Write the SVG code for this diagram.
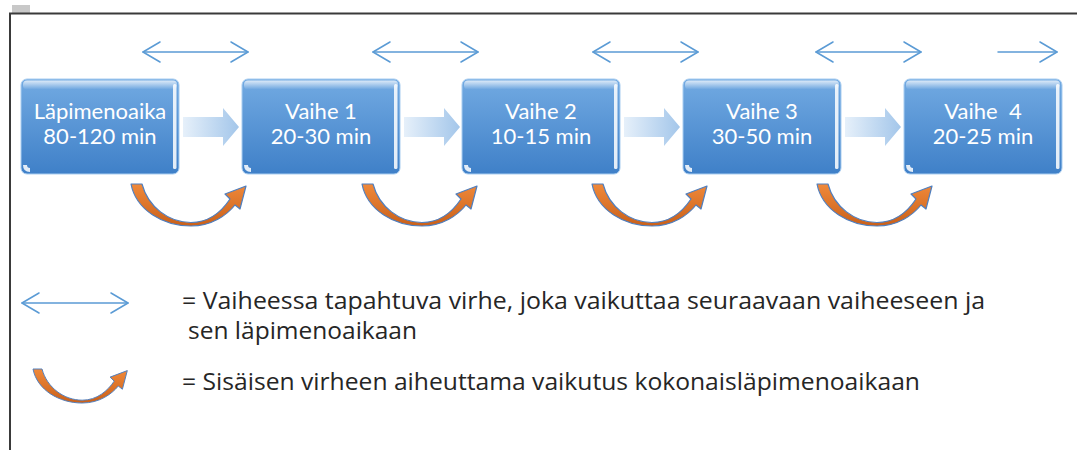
<svg xmlns="http://www.w3.org/2000/svg" width="1077" height="450" viewBox="0 0 1077 450">
  <style>
    .box-label { font-family: Lato, "Open Sans", sans-serif; font-size: 22px; fill: #ffffff; text-anchor: middle; }
    .legend { font-family: "Open Sans", Lato, sans-serif; font-size: 23px; fill: #262626; }
    .dbl { fill: none; stroke: #5b9bd5; stroke-width: 1.5; stroke-linecap: round; stroke-linejoin: round; }
    .flow { fill: url(#flowGrad); }
    .curve { fill: url(#curveGrad); stroke: #4f7fbf; stroke-width: 1.2; stroke-linejoin: round; }
  </style>
  <defs>
    <linearGradient id="boxGrad" x1="0" y1="0" x2="0" y2="1">
      <stop offset="0" stop-color="#72aae2"/>
      <stop offset="1" stop-color="#3f80c8"/>
    </linearGradient>
    <linearGradient id="topShine" x1="0" y1="0" x2="0" y2="1">
      <stop offset="0" stop-color="#ffffff" stop-opacity="0.75"/>
      <stop offset="1" stop-color="#ffffff" stop-opacity="0"/>
    </linearGradient>
    <linearGradient id="flowGrad" x1="0" y1="0" x2="1" y2="0">
      <stop offset="0" stop-color="#e6f0fa"/>
      <stop offset="1" stop-color="#a3c6ea"/>
    </linearGradient>
    <linearGradient id="curveGrad" x1="0" y1="0" x2="0" y2="1">
      <stop offset="0" stop-color="#f0893a"/>
      <stop offset="1" stop-color="#c9601a"/>
    </linearGradient>
    <!-- bevelled stage box, 158 x 95 -->
    <g id="stageBox">
      <rect x="0" y="0" width="158" height="95" rx="6" fill="url(#boxGrad)" stroke="#a9cdf0" stroke-width="1"/>
      <rect x="2" y="1.5" width="154" height="9" rx="4" fill="url(#topShine)"/>
      <rect x="152" y="5" width="3.5" height="85" rx="1.5" fill="#ffffff" opacity="0.85"/>
      <path d="M2,86 Q2,93 9,93 L9,89 Q6,89 6,86 Z" fill="#ffffff" opacity="0.85"/>
    </g>
    <!-- light block arrow between stages -->
    <path id="flowArrow" class="flow" d="M0,-10 L40,-10 L40,-19 L56,0 L40,19 L40,10 L0,10 Z"/>
    <!-- orange U-turn arrow -->
    <path id="uArrow" class="curve" d="M0,0 C5,26 32,42 60,42 C81,42 96,31 104,21 L109,25 L115,2 L94,10 L99,15 C91,27 78,38.5 60,38.5 C38,38.5 17,23 11,0 Z"/>
    <!-- thin double-headed arrow, 105 long -->
    <g id="dblArrow">
      <line class="dbl" x1="0" y1="0" x2="105" y2="0"/>
      <polyline class="dbl" points="17,-10 0,0 17,10"/>
      <polyline class="dbl" points="88,-10 105,0 88,10"/>
    </g>
  </defs>

  <!-- frame -->
  <rect x="12" y="5" width="18" height="8" fill="#c8c8c8"/>
  <path d="M10,450 L10,13.5 L1077,13.5" fill="none" stroke="#3a3a3a" stroke-width="2"/>

  <!-- connectors -->
  <g id="connectors">
    <use href="#dblArrow" x="143" y="52"/>
    <use href="#dblArrow" x="373" y="52"/>
    <use href="#dblArrow" x="593" y="52"/>
    <use href="#dblArrow" x="816" y="52"/>
    <g>
      <line class="dbl" x1="998" y1="52" x2="1057" y2="52"/>
      <polyline class="dbl" points="1040,42 1057,52 1040,62"/>
    </g>

    <use href="#flowArrow" x="183" y="127"/>
    <use href="#flowArrow" x="404" y="127"/>
    <use href="#flowArrow" x="624" y="127"/>
    <use href="#flowArrow" x="845" y="127"/>

    <use href="#uArrow" x="131" y="184"/>
    <use href="#uArrow" x="362" y="184"/>
    <use href="#uArrow" x="592" y="184"/>
    <use href="#uArrow" x="817" y="184"/>
  </g>

  <!-- stages -->
  <g id="node-lapimenoaika">
    <use href="#stageBox" x="21" y="79"/>
    <text class="box-label" x="100" y="119">Läpimenoaika</text>
    <text class="box-label" x="100" y="144">80-120 min</text>
  </g>
  <g id="node-vaihe1">
    <use href="#stageBox" x="242" y="79"/>
    <text class="box-label" x="321" y="119">Vaihe 1</text>
    <text class="box-label" x="321" y="144">20-30 min</text>
  </g>
  <g id="node-vaihe2">
    <use href="#stageBox" x="462" y="79"/>
    <text class="box-label" x="541" y="119">Vaihe 2</text>
    <text class="box-label" x="541" y="144">10-15 min</text>
  </g>
  <g id="node-vaihe3">
    <use href="#stageBox" x="683" y="79"/>
    <text class="box-label" x="762" y="119">Vaihe 3</text>
    <text class="box-label" x="762" y="144">30-50 min</text>
  </g>
  <g id="node-vaihe4">
    <use href="#stageBox" x="904" y="79"/>
    <text class="box-label" x="983" y="119" xml:space="preserve">Vaihe  4</text>
    <text class="box-label" x="983" y="144">20-25 min</text>
  </g>

  <!-- legend -->
  <g id="legend">
    <g transform="translate(22,303)">
      <line class="dbl" x1="0" y1="0" x2="106" y2="0"/>
      <polyline class="dbl" points="17,-10 0,0 17,10"/>
      <polyline class="dbl" points="89,-10 106,0 89,10"/>
    </g>
    <g transform="translate(33,369) scale(0.82,0.81)">
      <use href="#uArrow"/>
    </g>
    <text class="legend" x="182" y="309" textLength="803" lengthAdjust="spacingAndGlyphs">= Vaiheessa tapahtuva virhe, joka vaikuttaa seuraavaan vaiheeseen ja</text>
    <text class="legend" x="188" y="339" textLength="229" lengthAdjust="spacingAndGlyphs">sen läpimenoaikaan</text>
    <text class="legend" x="182" y="390" textLength="738" lengthAdjust="spacingAndGlyphs">= Sisäisen virheen aiheuttama vaikutus kokonaisläpimenoaikaan</text>
  </g>
</svg>
